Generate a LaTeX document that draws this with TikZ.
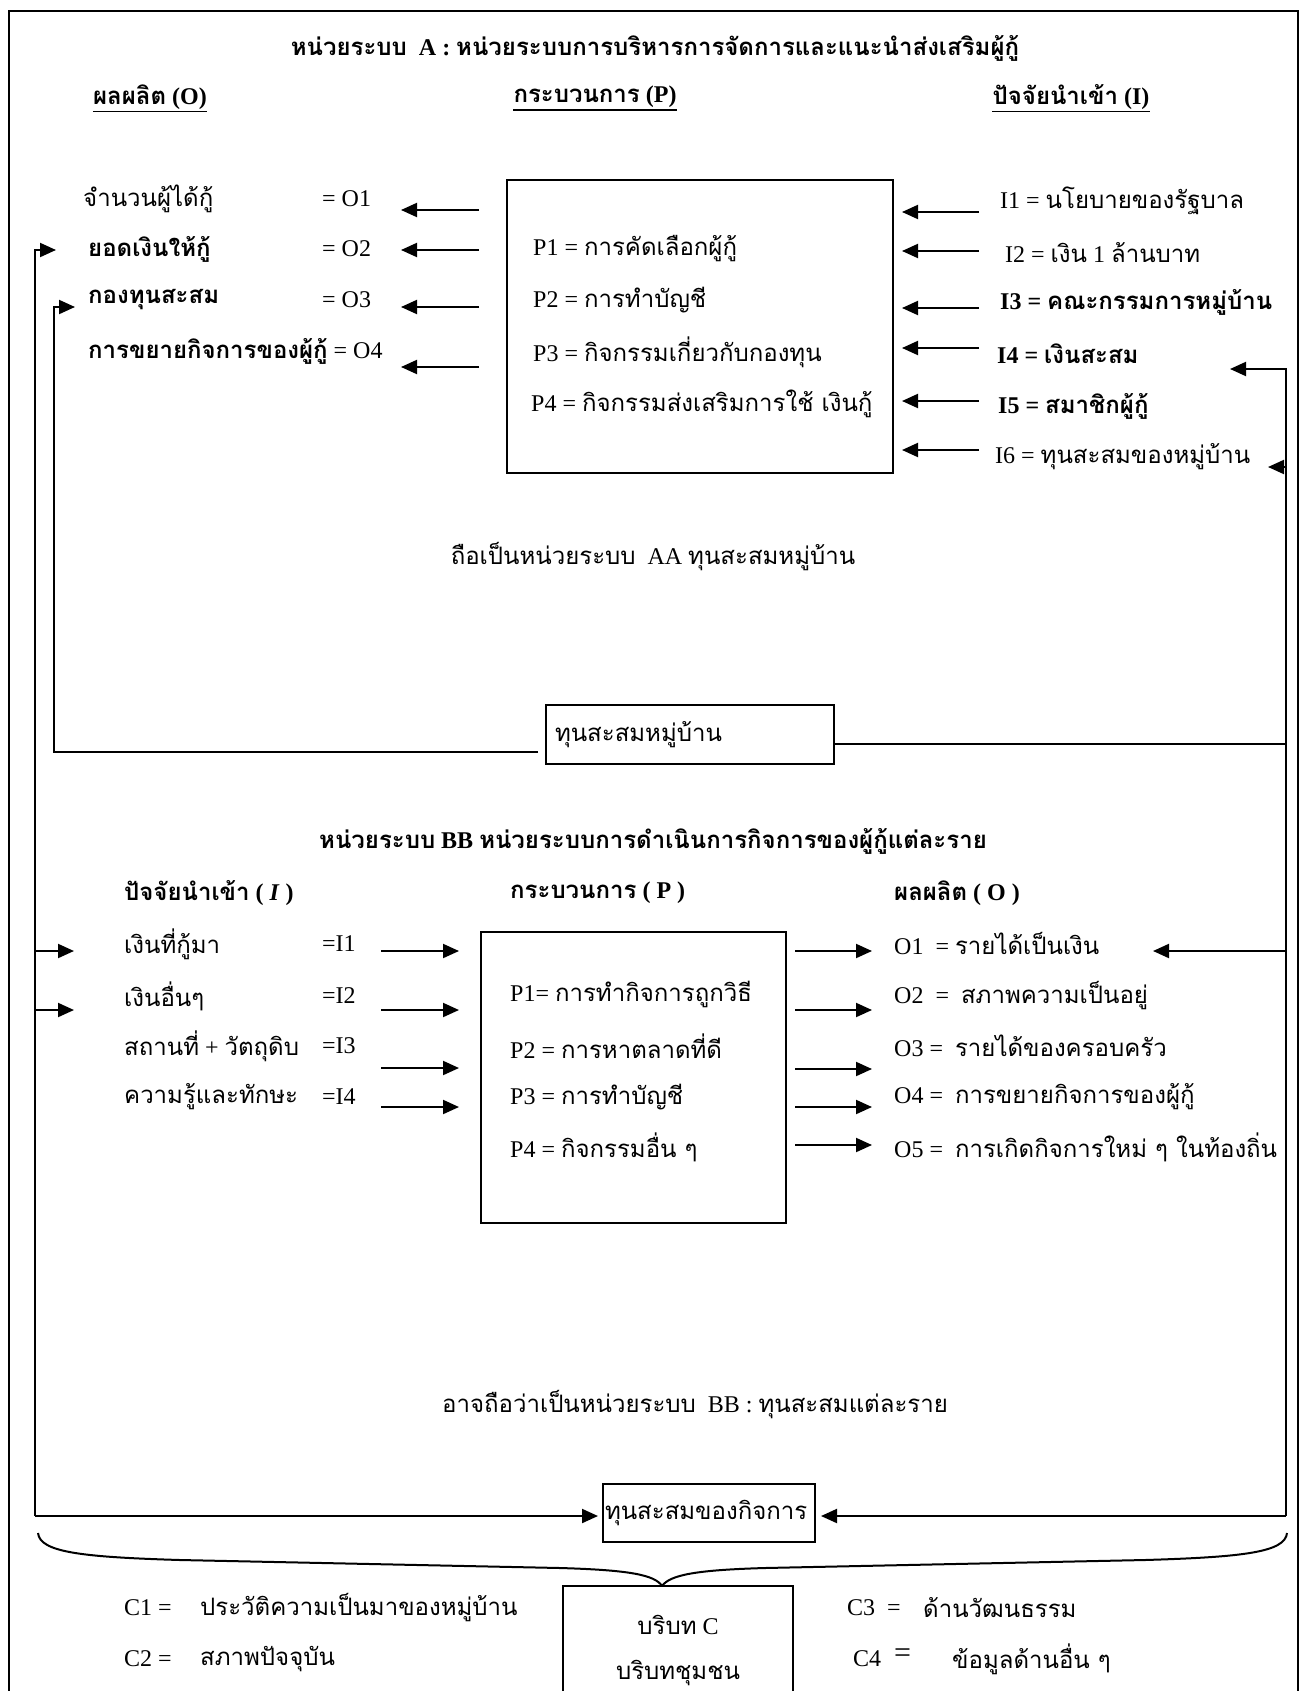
\documentclass[tikz,border=0pt]{standalone}
\usepackage{fontspec}
\setmainfont{Liberation Serif}
\newfontfamily\thaifont[Script=Thai]{Loma}
\usetikzlibrary{arrows.meta}
\newcommand\T[1]{{\thaifont #1}}
\begin{document}
\begin{tikzpicture}[x=1pt,y=-1pt,
  every node/.style={inner sep=0pt, font=\fontsize{24}{28}\selectfont},
  lbl/.style={anchor=west},
  ttl/.style={font=\fontsize{24}{28}\selectfont\bfseries},
  bx/.style={draw, line width=2pt},
  arr/.style={line width=2pt, -{Triangle[length=16pt,width=14pt]}},
  ln/.style={line width=2pt},
  ul/.style={line width=1.2pt}]
\useasboundingbox (0,0) rectangle (1306,1691);
\fill[white] (0,0) rectangle (1306,1691);
% outer frame
\draw[line width=1.6pt] (9,1700) -- (9,11) -- (1298,11) -- (1298,1700);

% ---------- Unit A ----------
\node[ttl] (tA) at (655,48) {\T{หน่วยระบบ}\ \ A : \T{หน่วยระบบการบริหารการจัดการและแนะนำส่งเสริมผู้กู้}};
\node[ttl] (hO) at (150,97) {\T{ผลผลิต} (O)};
\node[ttl] (hP) at (595,97) {\T{กระบวนการ} (P)};
\node[ttl] (hI) at (1071,97) {\T{ปัจจัยนำเข้า} (I)};
\draw[ul] ([yshift=-2pt]hO.south west) -- ([yshift=-2pt]hO.south east);
\draw[ul] ([yshift=-2pt]hP.south west) -- ([yshift=-2pt]hP.south east);
\draw[ul] ([yshift=-2pt]hI.south west) -- ([yshift=-2pt]hI.south east);

% outputs A
\node[lbl] (o1) at (83,199) {\T{จำนวนผู้ได้กู้}};
\node[lbl] (o1e) at (322,199) {= O1};
\node[lbl] (o2) at (88,249) {\T{\bfseries ยอดเงินให้กู้}};
\node[lbl] (o2e) at (322,249) {= O2};
\node[lbl] (o3) at (88,300) {\T{\bfseries กองทุนสะสม}};
\node[lbl] (o3e) at (322,300) {= O3};
\node[lbl] (o4) at (88,351) {\T{\bfseries การขยายกิจการของผู้กู้} = O4};

% process A
\node[bx, minimum width=386pt, minimum height=293pt] (pA) at (700,326.5) {};
\node[lbl] (p1) at (533,249) {P1 = \T{การคัดเลือกผู้กู้}};
\node[lbl] (p2) at (533,300) {P2 = \T{การทำบัญชี}};
\node[lbl] (p3) at (533,352) {P3 = \T{กิจกรรมเกี่ยวกับกองทุน}};
\node[lbl] (p4) at (531,404) {P4 = \T{กิจกรรมส่งเสริมการใช้ เงินกู้}};

% inputs A
\node[lbl] (i1) at (1000,201) {I1 = \T{นโยบายของรัฐบาล}};
\node[lbl] (i2) at (1005,253) {I2 = \T{เงิน} 1 \T{ล้านบาท}};
\node[lbl] (i3) at (1000,302) {\bfseries I3 = \T{คณะกรรมการหมู่บ้าน}};
\node[lbl] (i4) at (997,354) {\bfseries I4 = \T{เงินสะสม}};
\node[lbl] (i5) at (998,406) {\bfseries I5 = \T{สมาชิกผู้กู้}};
\node[lbl] (i6) at (995,457) {I6 = \T{ทุนสะสมของหมู่บ้าน}};

\node (aa) at (653,557) {\T{ถือเป็นหน่วยระบบ}\ \ AA \T{ทุนสะสมหมู่บ้าน}};

\node[bx, minimum width=288pt, minimum height=59pt, text width=270pt, align=left, inner xsep=9pt] (vf) at (690,734.5) {\T{ทุนสะสมหมู่บ้าน}};

% arrows A (process -> outputs)
\foreach \y [count=\k] in {210,250,307,367} {
  \coordinate (aoS\k) at (479,\y); \coordinate (aoE\k) at (401,\y);
  \draw[arr] (aoS\k) -- (aoE\k);
}
% arrows A (inputs -> process)
\foreach \y [count=\k] in {212,251,308,348,401,450} {
  \coordinate (aiS\k) at (979,\y); \coordinate (aiE\k) at (902,\y);
  \draw[arr] (aiS\k) -- (aiE\k);
}

% ---------- Unit BB ----------
\node[ttl] (tB) at (653,841) {\T{หน่วยระบบ} BB \T{หน่วยระบบการดำเนินการกิจการของผู้กู้แต่ละราย}};
\node[ttl, lbl] (hI2) at (124,893) {\T{ปัจจัยนำเข้า} ( \textit{I} )};
\node[ttl, lbl] (hP2) at (510,893) {\T{กระบวนการ} ( P )};
\node[ttl, lbl] (hO2) at (894,893) {\T{ผลผลิต} ( O )};

\node[lbl] (b1) at (124,944) {\T{เงินที่กู้มา}};
\node[lbl] (b1e) at (322,944) {=I1};
\node[lbl] (b2) at (124,996) {\T{เงินอื่นๆ}};
\node[lbl] (b2e) at (322,996) {=I2};
\node[lbl] (b3) at (124,1046) {\T{สถานที่} + \T{วัตถุดิบ}};
\node[lbl] (b3e) at (322,1046) {=I3};
\node[lbl] (b4) at (124,1097) {\T{ความรู้และทักษะ}};
\node[lbl] (b4e) at (322,1097) {=I4};

\node[bx, minimum width=305pt, minimum height=291pt] (pB) at (633.5,1077.5) {};
\node[lbl] (q1) at (510,994) {P1= \T{การทำกิจการถูกวิธี}};
\node[lbl] (q2) at (510,1046) {P2 = \T{การหาตลาดที่ดี}};
\node[lbl] (q3) at (510,1097) {P3 = \T{การทำบัญชี}};
\node[lbl] (q4) at (510,1147) {P4 = \T{กิจกรรมอื่น ๆ}};

\node[lbl] (r1) at (894,944) {O1\ \ = \T{รายได้เป็นเงิน}};
\node[lbl] (r2) at (894,996) {O2\ \ =\ \ \T{สภาพความเป็นอยู่}};
\node[lbl] (r3) at (894,1046) {O3 =\ \ \T{รายได้ของครอบครัว}};
\node[lbl] (r4) at (894,1097) {O4 =\ \ \T{การขยายกิจการของผู้กู้}};
\node[lbl] (r5) at (894,1147) {O5 =\ \ \T{การเกิดกิจการใหม่ ๆ ในท้องถิ่น}};

\foreach \y [count=\k] in {951,1010,1068,1107} {
  \coordinate (biS\k) at (381,\y); \coordinate (biE\k) at (459,\y);
  \draw[arr] (biS\k) -- (biE\k);
}
\foreach \y [count=\k] in {951,1010,1069,1107,1145} {
  \coordinate (boS\k) at (795,\y); \coordinate (boE\k) at (872,\y);
  \draw[arr] (boS\k) -- (boE\k);
}

\node (bb) at (695,1405) {\T{อาจถือว่าเป็นหน่วยระบบ}\ \ BB : \T{ทุนสะสมแต่ละราย}};

\node[bx, minimum width=212pt, minimum height=58pt, text width=208pt, align=left, inner xsep=2pt] (gk) at (709,1513) {\T{ทุนสะสมของกิจการ}};

% ---------- feedback lines ----------
% outer left line
\coordinate (L1t) at (35,250);
\coordinate (L1b) at (35,1516);
\coordinate (L1o2) at (56,250);
\coordinate (L1g) at (598,1516);
\draw[arr] (L1b) -- (L1t) -- (L1o2);
\draw[arr] (L1b) -- (L1g);
\coordinate (L1a) at (35,951); \coordinate (L1aE) at (74,951);
\coordinate (L1c) at (35,1010); \coordinate (L1cE) at (74,1010);
\draw[arr] (L1a) -- (L1aE);
\draw[arr] (L1c) -- (L1cE);
% inner left line from village fund
\coordinate (L2s) at (538,752);
\coordinate (L2b) at (54,752);
\coordinate (L2t) at (54,307);
\coordinate (L2o3) at (75,307);
\draw[arr] (L2s) -- (L2b) -- (L2t) -- (L2o3);
% right line
\coordinate (Rt) at (1286,369);
\coordinate (Rb) at (1286,1516);
\coordinate (Ri4) at (1230,369);
\coordinate (Rg) at (821,1516);
\coordinate (R6) at (1286,467); \coordinate (R6E) at (1268,467);
\coordinate (R9) at (1286,951); \coordinate (R9E) at (1153,951);
\coordinate (Rv) at (1286,744);
\draw[arr] (Rb) -- (Rt) -- (Ri4);
\draw[arr] (Rb) -- (Rg);
\draw[arr] (R6) -- (R6E);
\draw[arr] (R9) -- (R9E);
\draw[ln] (vf.east |- Rv) -- (Rv);

% ---------- context C ----------
\node[bx, minimum width=230pt, minimum height=160pt] (bc) at (678,1666) {};
\node (bc1) at (678,1625) {\T{บริบท} C};
\node (bc2) at (678,1673) {\T{บริบทชุมชน}};

\coordinate (brL) at (38,1533);
\coordinate (brR) at (1287,1533);
\coordinate (brT) at (662,1586);
\draw[ln] (brL) .. controls (40,1552) and (80,1557) .. (180,1560) -- (560,1568) .. controls (630,1570) and (655,1575) .. (brT);
\draw[ln] (brR) .. controls (1285,1552) and (1245,1557) .. (1145,1560) -- (765,1568) .. controls (695,1570) and (670,1575) .. (brT);

\node[lbl] (c1) at (124,1608) {C1 =};
\node[lbl] (c1t) at (200,1608) {\T{ประวัติความเป็นมาของหมู่บ้าน}};
\node[lbl] (c2) at (124,1659) {C2 =};
\node[lbl] (c2t) at (200,1659) {\T{สภาพปัจจุบัน}};
\node[lbl] (c3) at (847,1608) {C3\ \ =};
\node[lbl] (c3t) at (923,1608) {\T{ด้านวัฒนธรรม}};
\node[lbl] (c4) at (853,1659) {C4};
\node[lbl] (c4e) at (894,1656) {\fontsize{30}{30}\selectfont =};
\node[lbl] (c4t) at (952,1659) {\T{ข้อมูลด้านอื่น ๆ}};
\end{tikzpicture}
\end{document}
